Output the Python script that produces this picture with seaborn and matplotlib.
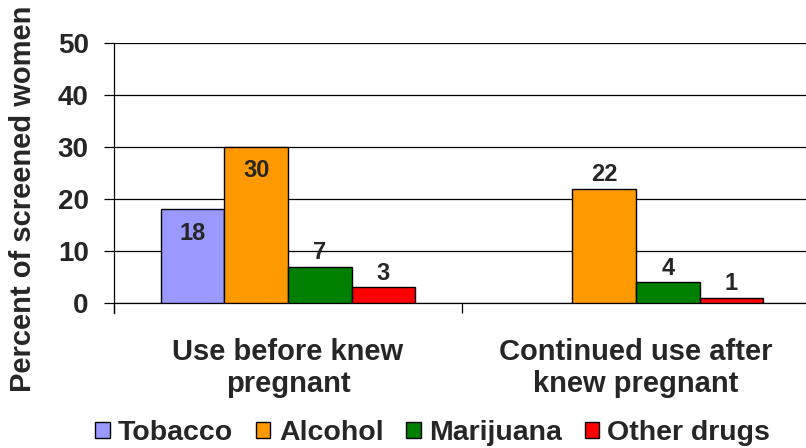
import numpy as np
import pandas as pd
import matplotlib
matplotlib.use("Agg")
import matplotlib.pyplot as plt
from matplotlib.patches import Patch
import seaborn as sns

# Survey results: percent of screened women reporting each substance
categories = ["Use before knew\npregnant", "Continued use after\nknew pregnant"]
substances = ["Tobacco", "Alcohol", "Marijuana", "Other drugs"]
tobacco = [18, np.nan]
alcohol = [30, 22]
marijuana = [7, 4]
other_drugs = [3, 1]
y_ticks = [0, 10, 20, 30, 40, 50]

colors = ["#9999FF", "#FF9900", "#008000", "#FF0000"]

rows = []
for name, vals in zip(substances, [tobacco, alcohol, marijuana, other_drugs]):
    for cat, v in zip(categories, vals):
        rows.append({"category": cat, "substance": name, "percent": v})
df = pd.DataFrame(rows)

sns.set_style("white")
plt.rcParams["font.family"] = ["Liberation Sans", "DejaVu Sans"]
plt.rcParams["font.weight"] = "bold"

fig = plt.figure(figsize=(8.06, 4.48), dpi=100)
W, H = 806, 448
ax = fig.add_axes([114 / W, (H - 303) / H, 696 / W, 260 / H])

sns.barplot(data=df, x="category", y="percent", hue="substance",
            order=categories, hue_order=substances, palette=colors,
            width=0.73, edgecolor="black", linewidth=1.0, saturation=1,
            errorbar=None, legend=False, ax=ax, zorder=3)

ax.set_xlim(-0.5, 1.5)
ax.set_ylim(0, 50)
ax.set_yticks(y_ticks)
ax.yaxis.grid(True, color="black", linewidth=0.9)
ax.set_axisbelow(True)
for s in ["top", "right"]:
    ax.spines[s].set_visible(False)
ax.spines["left"].set_color("black")
ax.spines["bottom"].set_color("black")
ax.spines["left"].set_linewidth(0.9)
ax.spines["bottom"].set_linewidth(0.9)
ax.spines["left"].set_bounds(-2, 50)

ax.tick_params(axis="y", which="major", length=7.2, width=0.9, color="black",
               direction="out", left=True, pad=11, labelsize=20)
ax.tick_params(axis="x", which="major", length=0, pad=25, labelsize=21)
ax.set_xticks([-0.5, 0.5, 1.5], minor=True)
ax.tick_params(axis="x", which="minor", length=7.2, width=0.9, color="black",
               direction="out", bottom=True)
for lbl in ax.get_yticklabels() + ax.get_xticklabels():
    lbl.set_fontweight("bold")

ax.set_xlabel("")
ax.set_ylabel("Percent of screened women", fontsize=21, fontweight="bold", va="center")
ax.yaxis.set_label_coords(-0.131, 0.4)

# value labels: the first two bars of the first group carry them inside
inside = {("Tobacco", 0), ("Alcohol", 0)}
for name, cont in zip(substances, ax.containers):
    for bar in cont:
        h = bar.get_height()
        if np.isnan(h):
            continue
        xc = bar.get_x() + bar.get_width() / 2
        grp = int(round(xc))
        off = -17 if (name, grp) in inside else 10
        ax.annotate(f"{h:.0f}", (xc, h), xytext=(0, off), textcoords="offset points",
                    ha="center", va="center", fontsize=17, fontweight="bold",
                    zorder=5)

handles = [Patch(facecolor=c, edgecolor="black", linewidth=1.0) for c in colors]
fig.legend(handles, substances, loc="center", bbox_to_anchor=(0.537, 0.034),
           ncol=4, frameon=False, handlelength=0.5, handleheight=0.5,
           handletextpad=0.3, columnspacing=0.8, borderpad=0,
           prop={"weight": "bold", "size": 20.5})

fig.savefig("out.png", dpi=100)
